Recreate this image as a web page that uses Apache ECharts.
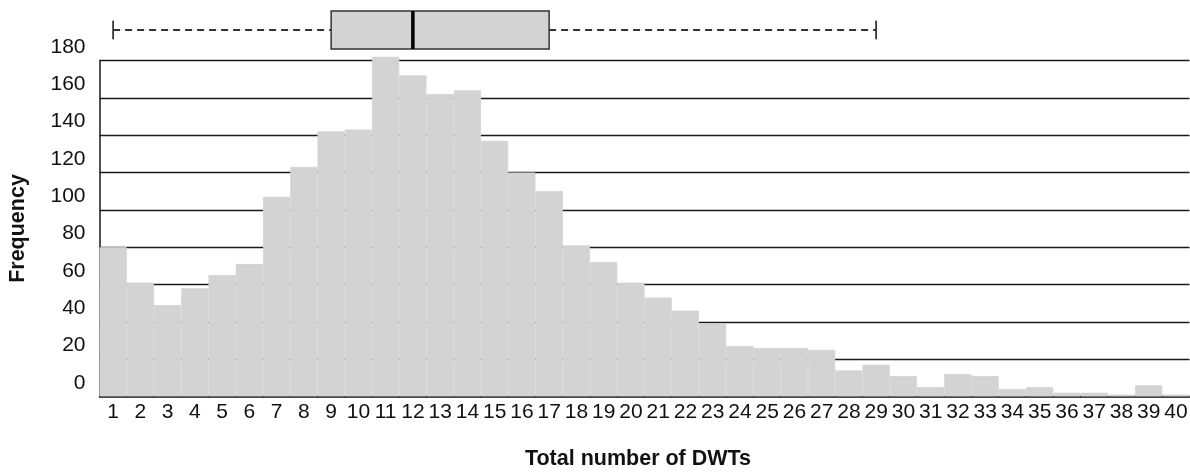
<!DOCTYPE html>
<html>
<head>
<meta charset="utf-8">
<script src="https://cdn.jsdelivr.net/npm/echarts@6/dist/echarts.min.js"></script>
<style>
html,body{margin:0;padding:0;background:#fff;}
#chart{width:1190px;height:475px;}
</style>
</head>
<body>
<div id="chart"></div>
<script>
const categories = ['1','2','3','4','5','6','7','8','9','10','11','12','13','14','15','16','17','18','19','20','21','22','23','24','25','26','27','28','29','30','31','32','33','34','35','36','37','38','39','40'];
const frequency = [80,61,49,58,65,71,107,123,142,143,182,172,162,164,137,120,110,81,72,61,53,46,39,27,26,26,25,14,17,11,5,12,11,4,5,2,2,1,6,1];
const yTicks = [0,20,40,60,80,100,120,140,160,180];
// boxplot summary: [min, Q1, median, Q3, upper whisker]
const boxStats = [1, 9, 12, 17, 29];

const FONT = "'Liberation Sans', Arial, sans-serif";
const chart = echarts.init(document.getElementById('chart'));

chart.setOption({
  animation: false,
  backgroundColor: '#fff',
  grid: [
    {left: 99.5, width: 1090, top: 60.5, height: 336, outerBoundsMode: 'none', containLabel: false},
    {left: 99.5, width: 1090, top: 11, height: 38, outerBoundsMode: 'none', containLabel: false}
  ],
  xAxis: [
    {
      type: 'category', gridIndex: 0, data: categories,
      boundaryGap: true,
      axisLine: {show: true, lineStyle: {color: '#1a1a1a', width: 1.5}},
      axisTick: {show: false},
      axisLabel: {interval: 0, margin: 5, fontFamily: FONT, fontSize: 21, color: '#111'},
      splitLine: {show: false},
      name: 'Total number of DWTs', nameLocation: 'middle', nameGap: 52,
      nameTextStyle: {fontFamily: FONT, fontSize: 21.5, fontWeight: 'bold', color: '#111', padding: [0, 13, 0, 0]}
    },
    {
      type: 'value', gridIndex: 1, min: 0.5, max: 40.5, show: false
    }
  ],
  yAxis: [
    {
      type: 'value', gridIndex: 0, min: yTicks[0], max: yTicks[yTicks.length-1], interval: 20,
      axisLine: {show: true, lineStyle: {color: '#1a1a1a', width: 1.5}},
      axisTick: {show: false},
      axisLabel: {margin: 14, fontFamily: FONT, fontSize: 21, color: '#111',
                  verticalAlign: 'bottom', lineHeight: 27},
      splitLine: {show: true, lineStyle: {color: '#1a1a1a', width: 1.3}},
      name: 'Frequency', nameLocation: 'middle', nameRotate: 90, nameGap: 70,
      nameTextStyle: {fontFamily: FONT, fontSize: 21.5, fontWeight: 'bold', color: '#111'}
    },
    {
      type: 'value', gridIndex: 1, min: 0, max: 1, show: false
    }
  ],
  series: [
    {
      type: 'bar', xAxisIndex: 0, yAxisIndex: 0,
      data: frequency,
      barCategoryGap: '0%',
      clip: false,
      itemStyle: {color: '#d3d3d3', borderColor: '#d3d3d3', borderWidth: 0.8},
      z: 2
    },
    {
      type: 'custom', xAxisIndex: 1, yAxisIndex: 1,
      data: [boxStats],
      dimensions: ['min','q1','median','q3','max'],
      encode: {x: [0,1,2,3,4]},
      clip: false,
      renderItem: function (params, api) {
        const yc = api.coord([1, 0.5])[1];
        const half = api.size([0, 1])[1] / 2;
        const capHalf = half * 0.49;
        const xMin = api.coord([api.value(0), 0.5])[0];
        const xQ1 = api.coord([api.value(1), 0.5])[0];
        const xMed = api.coord([api.value(2), 0.5])[0];
        const xQ3 = api.coord([api.value(3), 0.5])[0];
        const xMax = api.coord([api.value(4), 0.5])[0];
        const dash = {stroke: '#333', lineWidth: 2, lineDash: [7, 5]};
        const solid = {stroke: '#333', lineWidth: 1.8};
        return {
          type: 'group',
          children: [
            {type: 'line', shape: {x1: xMin, y1: yc, x2: xQ1, y2: yc}, style: dash},
            {type: 'line', shape: {x1: xQ3, y1: yc, x2: xMax, y2: yc}, style: dash},
            {type: 'line', shape: {x1: xMin, y1: yc - capHalf, x2: xMin, y2: yc + capHalf}, style: solid},
            {type: 'line', shape: {x1: xMax, y1: yc - capHalf, x2: xMax, y2: yc + capHalf}, style: solid},
            {type: 'rect', shape: {x: xQ1, y: yc - half, width: xQ3 - xQ1, height: 2 * half},
             style: {fill: '#d3d3d3', stroke: '#333', lineWidth: 1.5}},
            {type: 'line', shape: {x1: xMed, y1: yc - half, x2: xMed, y2: yc + half},
             style: {stroke: '#000', lineWidth: 3.5}}
          ]
        };
      }
    }
  ]
});
</script>
</body>
</html>
